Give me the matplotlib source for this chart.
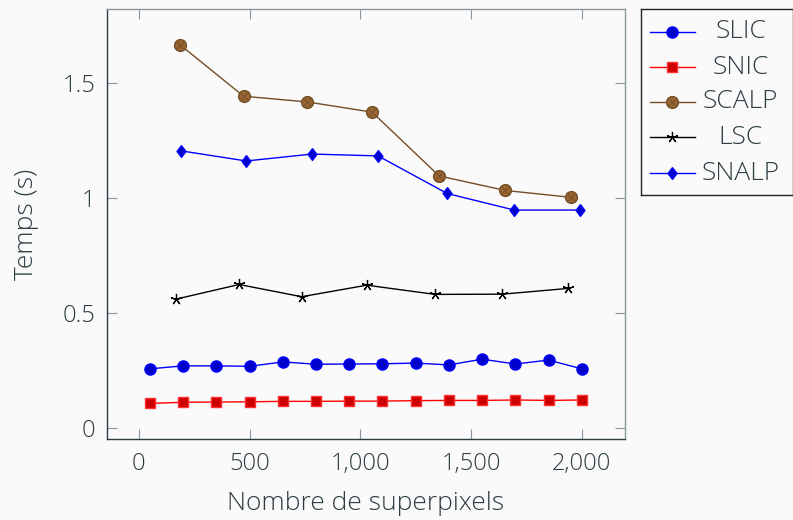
import matplotlib
matplotlib.use("Agg")
import matplotlib.pyplot as plt
from matplotlib.lines import Line2D
from matplotlib.ticker import FuncFormatter
import numpy as np

plt.rcParams["font.family"] = ["Open Sans", "DejaVu Sans"]
plt.rcParams["font.weight"] = "light"
plt.rcParams["axes.labelweight"] = "light"

# --------------------------------------------------------------------------- #
# Data
# --------------------------------------------------------------------------- #
slic_x = [50, 200, 350, 500, 650, 800, 950, 1100, 1250, 1400, 1550, 1700, 1850, 2000]
slic_y = [0.258, 0.271, 0.271, 0.269, 0.288, 0.278, 0.279, 0.280, 0.283, 0.275,
          0.300, 0.279, 0.296, 0.258]

snic_x = slic_x
snic_y = [0.108, 0.113, 0.114, 0.115, 0.117, 0.117, 0.118, 0.118, 0.120, 0.121,
          0.121, 0.123, 0.121, 0.123]

scalp_x = [185, 473, 761, 1053, 1356, 1655, 1953]
scalp_y = [1.665, 1.441, 1.416, 1.372, 1.095, 1.032, 1.002]

lsc_x = [170, 453, 735, 1029, 1338, 1640, 1939]
lsc_y = [0.561, 0.624, 0.571, 0.621, 0.581, 0.582, 0.607]

snalp_x = [190, 485, 782, 1080, 1392, 1695, 1993]
snalp_y = [1.204, 1.160, 1.190, 1.182, 1.019, 0.947, 0.947]

labels = ["SLIC", "SNIC", "SCALP", "LSC", "SNALP"]
x_ticks = [0, 500, 1000, 1500, 2000]
y_ticks = [0, 0.5, 1, 1.5]

TEXT = "#2e3d44"
GRAY = "#8a979c"
BG = "#fafafa"
BROWN_LINE = "#734d26"
BROWN_FILL = "#996633"
DIAMOND = [(0, 1), (0.75, 0), (0, -1), (-0.75, 0), (0, 1)]

styles = [
    dict(color="#0000ff", marker="o", ms=8, mfc="#0000cc", mec="#0000ff"),
    dict(color="#ff0000", marker="s", ms=7.5, mfc="#cc0000", mec="#ff3030"),
    dict(color=BROWN_LINE, marker="o", ms=8.5, mfc=BROWN_FILL, mec=BROWN_LINE),
    dict(color="black", marker=(5, 2, 0), ms=8, mfc="black", mec="black", mew=0.9),
    dict(color="#0000ff", marker=DIAMOND, ms=8.5, mfc="#0000cc", mec="#0000ff"),
]

W, H = 793, 520
fig = plt.figure(figsize=(W / 100, H / 100), dpi=100, facecolor=BG)
ax = fig.add_axes([106.7 / W, 1 - 439.3 / H, (625 - 106.7) / W, (439.3 - 8.7) / H])
ax.set_facecolor(BG)

series = [(slic_x, slic_y), (snic_x, snic_y), (scalp_x, scalp_y),
          (lsc_x, lsc_y), (snalp_x, snalp_y)]
for (xs, ys), st in zip(series, styles):
    ax.plot(xs, ys, lw=1.0, **st)
# otimes cross on SCALP marks
ax.plot(scalp_x, scalp_y, ls="none", marker="x", ms=5.5, mew=0.6, color=BROWN_LINE)

# pgfplots-like 10% enlargement
all_x = np.concatenate([np.asarray(s[0], float) for s in series])
all_y = np.concatenate([np.asarray(s[1], float) for s in series])
dx = 0.1 * (all_x.max() - all_x.min())
dy = 0.1 * (all_y.max() - all_y.min())
ax.set_xlim(all_x.min() - dx, all_x.max() + dx)
ax.set_ylim(all_y.min() - dy, all_y.max() + dy)

ax.set_xticks(x_ticks)
ax.set_yticks(y_ticks)
ax.xaxis.set_major_formatter(FuncFormatter(lambda v, p: f"{int(v):,}"))
ax.yaxis.set_major_formatter(FuncFormatter(lambda v, p: f"{v:g}"))
ax.tick_params(direction="in", length=7.5, width=0.8, color=GRAY,
               labelcolor=TEXT, labelsize=17, top=True, right=True, pad=8)
ax.tick_params(axis="x", pad=9)

for side in ("left", "bottom"):
    ax.spines[side].set_color(TEXT)
for side in ("top", "right"):
    ax.spines[side].set_color(GRAY)
for sp in ax.spines.values():
    sp.set_linewidth(1.0)

ax.set_xlabel("Nombre de superpixels", fontsize=19, color=TEXT, labelpad=11,
              fontweight="light")
ax.set_ylabel("Temps (s)", fontsize=19, color=TEXT, labelpad=17, fontweight="light")

# legend box, centred labels like pgfplots
lax = fig.add_axes([641 / W, 1 - 195 / H, 151.5 / W, 186 / H])
lax.set_xlim(0, 152)
lax.set_ylim(186, 0)
lax.set_xticks([])
lax.set_yticks([])
lax.set_facecolor(BG)
for sp in lax.spines.values():
    sp.set_color("#222222")
    sp.set_linewidth(1.0)
rows = [23, 58, 93, 128, 164]
for lab, st, ry in zip(labels, styles, rows):
    lax.add_line(Line2D([9, 54], [ry, ry], lw=1.0, color=st["color"]))
    lax.plot([31.5], [ry], ls="none", **{k: v for k, v in st.items() if k != "color"},
             color=st["color"])
    if lab == "SCALP":
        lax.plot([31.5], [ry], ls="none", marker="x", ms=5.5, mew=0.6, color=BROWN_LINE)
    lax.text(100, ry, lab, ha="center", va="center", fontsize=19, color=TEXT)

fig.savefig("out.png", dpi=100, facecolor=BG)
